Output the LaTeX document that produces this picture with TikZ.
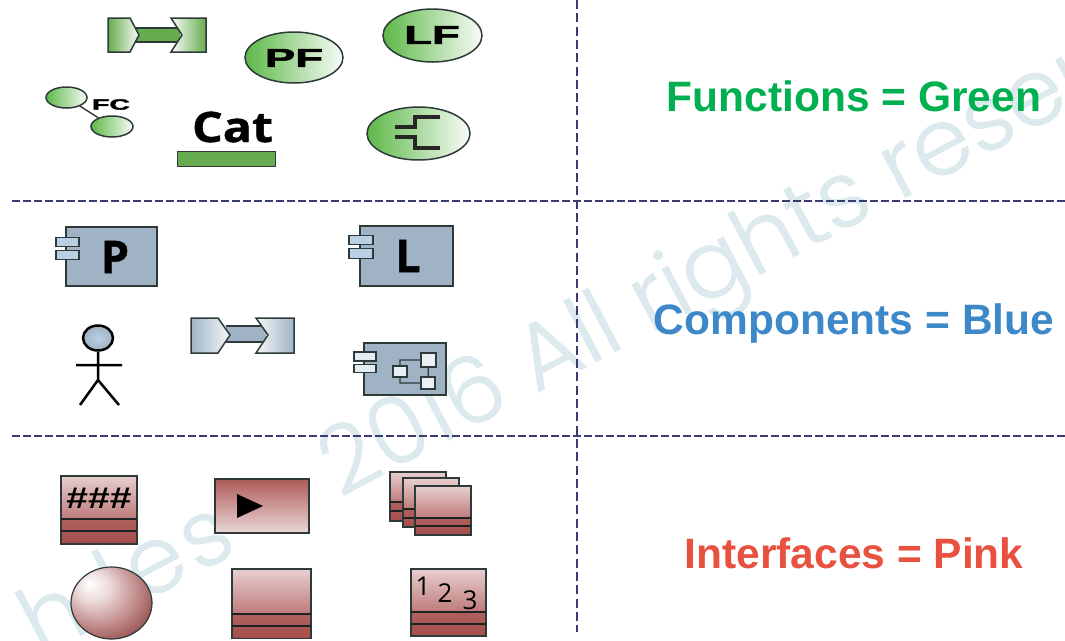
\documentclass[tikz,border=0pt]{standalone}
\usepackage{fontspec}
\setmainfont{Liberation Sans}
\newfontfamily\wmfont[FakeBold=0.8]{Poppins Light}
\newfontfamily\catfont[BoldFeatures={FakeBold=1}]{Open Sans}
\newfontfamily\heavyfont[BoldFeatures={FakeBold=2}]{Liberation Sans}
\usetikzlibrary{shapes.geometric}
\definecolor{gn}{HTML}{66AC4E}
\definecolor{gnb}{HTML}{5DB848}
\definecolor{gnl}{HTML}{F9FCF8}
\definecolor{bl}{HTML}{A0B3C4}
\definecolor{blp}{HTML}{B9CFE2}
\definecolor{pk}{HTML}{A64D4B}
\definecolor{pkl}{HTML}{E8CFCF}
\definecolor{edge}{HTML}{2E3A3A}
\definecolor{dashc}{HTML}{3B3B73}
\definecolor{wm}{HTML}{DCEAEE}
\pgfdeclareradialshading{spheresh}{\pgfpoint{-14bp}{14bp}}{rgb(0bp)=(1,1,1); rgb(10bp)=(0.93,0.86,0.86); rgb(24bp)=(0.76,0.55,0.55); rgb(34bp)=(0.60,0.33,0.33); rgb(42bp)=(0.36,0.12,0.12); rgb(60bp)=(0.36,0.12,0.12)}
\tikzset{
  x=1pt,y=-1pt,
  sep/.style={dashc,line width=1.3pt,dash pattern=on 7.5pt off 3.5pt},
  vsep/.style={dashc,line width=1.3pt,dash pattern=on 9pt off 4.3pt},
  ol/.style={draw=edge,line width=1.5pt},
  gell/.style={ellipse,ol,inner sep=0pt,left color=gnb,middle color=gnb!28!white,right color=gnl},
  gbig/.style={text=black,inner sep=0pt},
  legend/.style={font=\bfseries\fontsize{42.5}{42.5}\selectfont,inner sep=0pt},
  comp/.style={rectangle,ol,fill=bl,inner sep=0pt},
  port/.style={rectangle,draw=edge,line width=1.2pt,fill=blp,inner sep=0pt},
}
\newcommand{\pinkbox}[6]{%
  \shade[top color=pkl,bottom color=pk!65!pkl] (#1,#2) rectangle (#3,#5);
  \shade[top color=pk!85!pkl,bottom color=pk] (#1,#5) rectangle (#3,#4);
  \draw[edge,line width=1.2pt] (#1,#2) rectangle (#3,#4);
  \draw[edge!60!black,line width=1.2pt] (#1,#5) -- (#3,#5) (#1,#6) -- (#3,#6);
}
\begin{document}
\begin{tikzpicture}
\useasboundingbox (0,0) rectangle (1065,640);
\clip (0,0) rectangle (1065,640);
% watermark
\node[rotate=28,text=wm,inner sep=0pt,font=\wmfont\fontsize{93}{93}\selectfont,anchor=base west] (wm1) at (340,498) {2016 All rights reser};
\node[rotate=28,text=wm,inner sep=0pt,font=\wmfont\fontsize{93}{93}\selectfont,anchor=base east] (wm2) at (240,551) {h\hspace{0.3em}l\hspace{0.08em}e\hspace{0.05em}s};
% separators
\coordinate (vt) at (577,0); \coordinate (vb) at (577,632);
\coordinate (h1l) at (12,201); \coordinate (h1r) at (1065,201);
\coordinate (h2l) at (12,436); \coordinate (h2r) at (1065,436);
\draw[vsep] (vt) -- (vb);
\draw[sep] (h1l) -- (h1r);
\draw[sep] (h2l) -- (h2r);
% legends
\node[legend,text={rgb,255:red,0;green,176;blue,80}] (lf) at (854,96) {Functions = Green};
\node[legend,text={rgb,255:red,60;green,136;blue,200}] (lc) at (854,324) {Components = Blue};
\node[legend,text={rgb,255:red,232;green,80;blue,63}] (li) at (854,553) {Interfaces = Pink};
% green connector
\fill[gn] (135,28) rectangle (180,42);
\draw[edge,line width=1.5pt] (135,28) -- (178,28) (135,42) -- (178,42);
\shade[left color=gn,right color=gnl,ol] (108,18) -- (130,18) -- (139,35) -- (130,52) -- (108,52) -- cycle;
\shade[left color=gnl,right color=gn,ol] (171,18) -- (206,18) -- (206,52) -- (171,52) -- (182,35) -- cycle;
% green ellipses
\node[gell,minimum width=98pt,minimum height=51pt,name=pf] at (294,57.5) {};
\node[gbig,font=\heavyfont\bfseries\fontsize{26}{26}\selectfont,xscale=1.75] (pft) at (294,58) {PF};
\node[gell,minimum width=99pt,minimum height=53pt,name=lfe] at (432.5,35.5) {};
\node[gbig,font=\heavyfont\bfseries\fontsize{26}{26}\selectfont,xscale=1.75] (lft) at (432,35) {LF};
\node[gell,minimum width=41pt,minimum height=21pt,name=fc1] at (66.5,97.5) {};
\node[gell,minimum width=42pt,minimum height=21pt,name=fc2] at (112,126.5) {};
\draw[edge,line width=1.4pt] (fc1) -- (fc2);
\node[gbig,font=\heavyfont\bfseries\fontsize{15}{15}\selectfont,xscale=1.9] (fct) at (111,104.5) {FC};
\node[inner sep=0pt,font=\catfont\bfseries\fontsize{42}{42}\selectfont,text=black,xscale=1.15] (cat) at (232.5,127) {Cat};
\node[rectangle,draw=edge,line width=1pt,fill=gn,minimum width=98pt,minimum height=15pt,inner sep=0pt] (catbar) at (226,158.5) {};
\node[gell,minimum width=103pt,minimum height=53pt,name=forke] at (418.5,133.5) {};
\draw[black!85,line width=4pt] (395,127) -- (415,127) -- (415,117) -- (440,117);
\draw[black!85,line width=4pt] (395,137) -- (415,137) -- (415,148) -- (440,148);
% blue components
\node[comp,minimum width=91pt,minimum height=59pt] (cp) at (111.5,256.5) {};
\node[port,minimum width=23pt,minimum height=9.5pt] (cp1) at (67.5,242) {};
\node[port,minimum width=23pt,minimum height=9.5pt] (cp2) at (67.5,255) {};
\node[inner sep=0pt,font=\catfont\bfseries\fontsize{45}{45}\selectfont] (cpt) at (115,257) {P};
\node[comp,minimum width=93pt,minimum height=60pt] (cl) at (406.5,256) {};
\node[port,minimum width=24pt,minimum height=9.5pt] (cl1) at (361,240) {};
\node[port,minimum width=24pt,minimum height=10.5pt] (cl2) at (361,253.5) {};
\node[inner sep=0pt,font=\catfont\bfseries\fontsize{45}{45}\selectfont] (clt) at (408,256) {L};
% actor
\node[ellipse,draw=black,line width=2.5pt,inner color=blp,outer color=bl,minimum width=30pt,minimum height=25pt,inner sep=0pt] (head) at (98,338) {};
\coordinate (hip) at (98,380); \coordinate (arml) at (76,365); \coordinate (armr) at (122,365);
\coordinate (legl) at (80,405); \coordinate (legr) at (119,405);
\draw[black,line width=2.5pt] (head) -- (hip) -- (legl) (hip) -- (legr) (arml) -- (armr);
% blue connector
\fill[bl] (226,326) rectangle (266,342);
\draw[edge,line width=1.5pt] (226,326) -- (264,326) (226,342) -- (264,342);
\shade[left color=bl,right color=bl!10,ol] (191,318) -- (218,318) -- (230,335) -- (218,353) -- (191,353) -- cycle;
\shade[left color=bl!10,right color=bl,ol] (256,318) -- (294,318) -- (294,353) -- (256,353) -- (268,335) -- cycle;
% subsystem component
\node[comp,minimum width=82pt,minimum height=52pt] (cs) at (405,369) {};
\node[port,fill=blp!40,minimum width=22pt,minimum height=9pt] (cs1) at (365,356.5) {};
\node[port,fill=blp!40,minimum width=22pt,minimum height=8pt] (cs2) at (365,368.5) {};
\node[port,fill=blp!30,minimum width=14pt,minimum height=11pt] (ib1) at (400,371.5) {};
\node[port,fill=blp!30,minimum width=15pt,minimum height=14pt] (ib2) at (428.5,360) {};
\node[port,fill=blp!30,minimum width=14pt,minimum height=12pt] (ib3) at (428,383) {};
\draw[edge,line width=1.2pt] (ib1.north) |- (ib2.west) (ib1.south) |- (ib3.west) (ib2) -- (ib3);
% pink
\pinkbox{61}{476}{137}{544}{519}{531}
\node[inner sep=0pt,font=\bfseries\fontsize{30}{30}\selectfont,text=black,xscale=1.3] (hash) at (99,498) {\#\#\#};
\shade[top color=pk!92!white,bottom color=pkl!85!white,ol] (215,479) rectangle (309,533);
\coordinate (pa) at (237,494); \coordinate (pb) at (237,518); \coordinate (pc) at (263,506);
\fill[black] (pa) -- (pb) -- (pc) -- cycle;
\pinkbox{390}{472}{446}{521}{502}{511}
\pinkbox{403}{478}{459}{527}{509}{518}
\pinkbox{415}{486}{471}{535}{518}{526}
\path[shading=spheresh,draw=edge,line width=1.2pt] (111.5,603) ellipse [x radius=40.5,y radius=36];
\pinkbox{232}{569}{311}{638.5}{614}{626}
\pinkbox{411}{569}{486}{636}{612}{624}
\node[inner sep=0pt,font=\catfont\fontsize{26}{26}\selectfont] (n1) at (423,586) {1};
\node[inner sep=0pt,font=\catfont\fontsize{26}{26}\selectfont] (n2) at (445,593) {2};
\node[inner sep=0pt,font=\catfont\fontsize{26}{26}\selectfont] (n3) at (470,600) {3};
\end{tikzpicture}
\end{document}
